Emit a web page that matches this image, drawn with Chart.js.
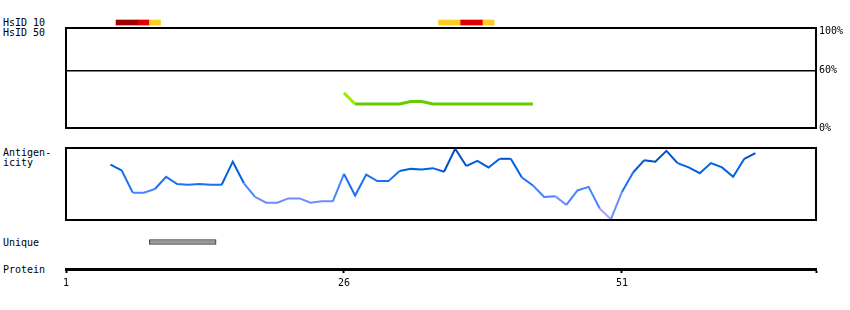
<!DOCTYPE html>
<html>
<head>
<meta charset="utf-8">
<script src="https://cdn.jsdelivr.net/npm/chart.js@4.4.1/dist/chart.umd.min.js"></script>
<style>
    body { margin: 0; background: #fff; }
    #container { position: relative; width: 850px; height: 310px; font-family: 'DejaVu Sans Mono', monospace; font-size: 10px; line-height: 10px; color: #000; }
    #container canvas { position: absolute; left: 0; }
    .label { position: absolute; left: 3px; white-space: pre; }
</style>
</head>
<body>
<div id="container">
    <div class="label" style="top:18px">HsID 10</div>
    <div class="label" style="top:28px">HsID 50</div>
    <div class="label" style="top:148px">Antigen-</div>
    <div class="label" style="top:158px">icity</div>
    <div class="label" style="top:238px">Unique</div>
    <div class="label" style="top:265px">Protein</div>
    <canvas id="identityChart" style="top:0" width="850" height="140"></canvas>
    <canvas id="hsidChart" style="top:0" width="850" height="40"></canvas>
    <canvas id="antigenChart" style="top:140px" width="850" height="90"></canvas>
    <canvas id="proteinChart" style="top:228px" width="850" height="82"></canvas>
</div>
<script>
// residue axis
const xMin = 1;
const xMax = 68.45;
const proteinTicks = [1, 26, 51, 68.45];
const proteinTickLabels = ['1', '26', '51', ''];

// HsID 10 hits (residue ranges)
const hsid10Ranges = [[5.5, 7.5], [7.5, 8.5], [8.5, 9.5], [34.5, 36.5], [36.5, 38.5], [38.5, 39.5]];
const hsid10Colors = ['#a00000', '#e00000', '#ffcc22', '#ffcc22', '#e00000', '#ffcc22'];

// identity (%) from residue 26
const identityStart = 26;
const identityValues = [36.5, 25, 25, 25, 25, 25, 27.5, 27.5, 25, 25, 25, 25, 25, 25, 25, 25, 25, 25];
const identityTicks = [0, 60, 100];

// antigenicity from residue 5
const antigenStart = 5;
const antigenValues = [
    0.77, 0.69, 0.38, 0.38, 0.43, 0.60, 0.50, 0.49, 0.50, 0.49,
    0.49, 0.81, 0.51, 0.32, 0.24, 0.24, 0.30, 0.30, 0.24, 0.26,
    0.26, 0.64, 0.34, 0.63, 0.54, 0.54, 0.68, 0.71, 0.70, 0.72,
    0.67, 0.99, 0.75, 0.82, 0.73, 0.85, 0.85, 0.59, 0.48, 0.32,
    0.33, 0.21, 0.41, 0.46, 0.16, 0.01, 0.39, 0.66, 0.83, 0.81,
    0.96, 0.79, 0.73, 0.65, 0.79, 0.73, 0.60, 0.85, 0.93
];

// unique region
const uniqueRanges = [[8.5, 14.5]];

Chart.defaults.font.family = "'DejaVu Sans Mono', monospace";
Chart.defaults.font.size = 10;
Chart.defaults.color = '#000';
Chart.defaults.animation = false;
Chart.defaults.plugins.legend.display = false;
Chart.defaults.plugins.tooltip.enabled = false;

const boxPlugin = {
    id: 'box',
    afterDraw(chart) {
        const { ctx, chartArea: a } = chart;
        ctx.save();
        ctx.strokeStyle = '#000';
        ctx.lineWidth = 2;
        ctx.strokeRect(a.left, a.top, a.right - a.left, a.bottom - a.top);
        ctx.restore();
    }
};

function hiddenX() {
    return { type: 'linear', min: xMin, max: xMax, display: false };
}

function toPoints(start, values) {
    return values.map((v, i) => ({ x: start + i, y: v }));
}

function antigenColor(v) {
    if (v > 0.8) return '#0050c8';
    if (v > 0.62) return '#0062e0';
    if (v > 0.45) return '#1c70f4';
    if (v > 0.3) return '#4a82ff';
    if (v > 0.15) return '#6c8cff';
    return '#a8a0ff';
}

new Chart(document.getElementById('hsidChart'), {
    type: 'bar',
    data: {
        labels: ['HsID 10', 'HsID 50'],
        datasets: [{
            data: hsid10Ranges.map(r => ({ x: r, y: 'HsID 10' })),
            backgroundColor: hsid10Colors,
            barThickness: 5,
            borderWidth: 0
        }]
    },
    options: {
        responsive: false,
        indexAxis: 'y',
        layout: { padding: { left: 66, right: 34, top: 19, bottom: 7 } },
        scales: {
            x: hiddenX(),
            y: { type: 'category', display: false }
        }
    }
});

new Chart(document.getElementById('identityChart'), {
    type: 'line',
    data: {
        datasets: [{
            data: toPoints(identityStart, identityValues),
            borderWidth: 3,
            pointRadius: 0,
            segment: {
                borderColor: ctx => ctx.p0.parsed.y > 30 ? '#99ee00' : '#66cc00'
            }
        }]
    },
    options: {
        responsive: false,
        layout: { padding: { left: 66, right: 0, top: 28, bottom: 12 } },
        scales: {
            x: hiddenX(),
            y: {
                type: 'linear',
                min: 0,
                max: 104,
                position: 'right',
                afterFit: s => { s.width = 34; },
                afterBuildTicks: s => { s.ticks = identityTicks.map(v => ({ value: v })); },
                ticks: { callback: v => v + '%', padding: 3 },
                grid: {
                    drawTicks: false,
                    lineWidth: 1.5,
                    color: c => (c.tick && c.tick.value === 60) ? '#000' : 'rgba(0,0,0,0)'
                },
                border: { display: false }
            }
        }
    },
    plugins: [boxPlugin]
});

new Chart(document.getElementById('antigenChart'), {
    type: 'line',
    data: {
        datasets: [{
            data: toPoints(antigenStart, antigenValues),
            borderWidth: 2,
            pointRadius: 0,
            segment: {
                borderColor: ctx => antigenColor((ctx.p0.parsed.y + ctx.p1.parsed.y) / 2)
            }
        }]
    },
    options: {
        responsive: false,
        layout: { padding: { left: 66, right: 34, top: 8, bottom: 10 } },
        scales: {
            x: hiddenX(),
            y: { type: 'linear', min: 0, max: 1, display: false }
        }
    },
    plugins: [boxPlugin]
});

new Chart(document.getElementById('proteinChart'), {
    type: 'bar',
    data: {
        labels: ['Unique', ''],
        datasets: [{
            data: uniqueRanges.map(r => ({ x: r, y: 'Unique' })),
            backgroundColor: '#999999',
            borderColor: '#333333',
            borderWidth: 1,
            borderSkipped: false,
            barThickness: 5
        }]
    },
    options: {
        responsive: false,
        indexAxis: 'y',
        layout: { padding: { left: 66, right: 34, top: 5, bottom: 0 } },
        scales: {
            x: {
                type: 'linear',
                min: xMin,
                max: xMax,
                position: 'bottom',
                afterFit: s => { s.height = 41; },
                afterBuildTicks: s => { s.ticks = proteinTicks.map(v => ({ value: v })); },
                ticks: {
                    callback: (v, i) => proteinTickLabels[i],
                    padding: 4,
                    maxRotation: 0,
                    autoSkip: false
                },
                grid: {
                    drawOnChartArea: false,
                    drawTicks: true,
                    tickLength: 4,
                    tickWidth: 2,
                    tickColor: '#000'
                },
                border: { display: true, width: 3, color: '#000' }
            },
            y: { type: 'category', display: false }
        }
    }
});
</script>
</body>
</html>
